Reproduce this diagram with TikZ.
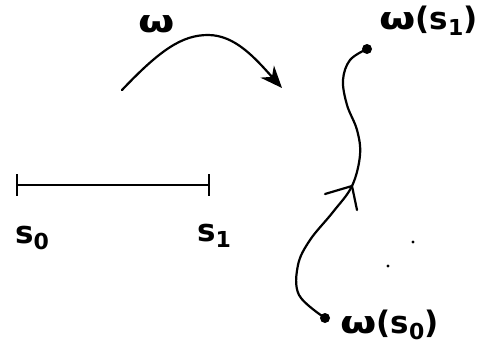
\documentclass[tikz,border=0pt]{standalone}
\usepackage{fontspec}
\setmainfont{DejaVu Sans}
\usetikzlibrary{arrows.meta}
\newcommand{\sbx}[1]{\raisebox{-6pt}{\fontsize{22}{22}\selectfont #1}}
\newcommand{\wom}{\scalebox{1.35}[1]{ω}}
\tikzset{
  lbl/.style={font=\fontsize{31}{31}\selectfont\bfseries, inner sep=0pt},
  ln/.style={line width=2.2pt, line cap=round},
  dotmark/.style={circle, fill=black, inner sep=0pt, minimum size=10pt},
}
\begin{document}
\begin{tikzpicture}[x=1pt,y=-1pt]
\useasboundingbox (0,0) rectangle (484,351);
% interval
\coordinate (a) at (17,185);
\coordinate (b) at (209,185);
\draw[line width=1.8pt] (a) -- (b);
\draw[line width=1.8pt] (17,174) -- (17,196);
\draw[line width=1.8pt] (209,174) -- (209,196);
\node[lbl] (s0) at (32,238) {s\sbx{0}};
\node[lbl] (s1) at (214,236) {s\sbx{1}};
% map arrow
\coordinate (m0) at (122,90);
\coordinate (m1) at (282,88);
\draw[ln, -{Stealth[length=22pt,width=18pt,inset=7pt]}] (m0) .. controls (160,50) and (182,35) .. (208,35) .. controls (235,35) and (255,58) .. (m1);
\node[lbl] (om) at (157,24) {\wom};
% path
\node[dotmark] (w0) at (325,318) {};
\node[dotmark] (w1) at (367,49) {};
\draw[ln] plot[smooth, tension=0.6] coordinates {(w1.center) (350,60) (343,80) (347,105) (357,130) (360,155) (352,186) (333,212) (310,240) (298,265) (299,295) (w0.center)};
\draw[ln] (325,194) -- (352,186) -- (357,210);
\node[lbl, anchor=west] (lw1) at (379,21) {\wom(s\sbx{1})};
\node[lbl, anchor=west] (lw0) at (340,325) {\wom(s\sbx{0})};
% stray dots
\fill (413,242) circle (1.6pt);
\fill (388,266) circle (1.6pt);
\end{tikzpicture}
\end{document}
